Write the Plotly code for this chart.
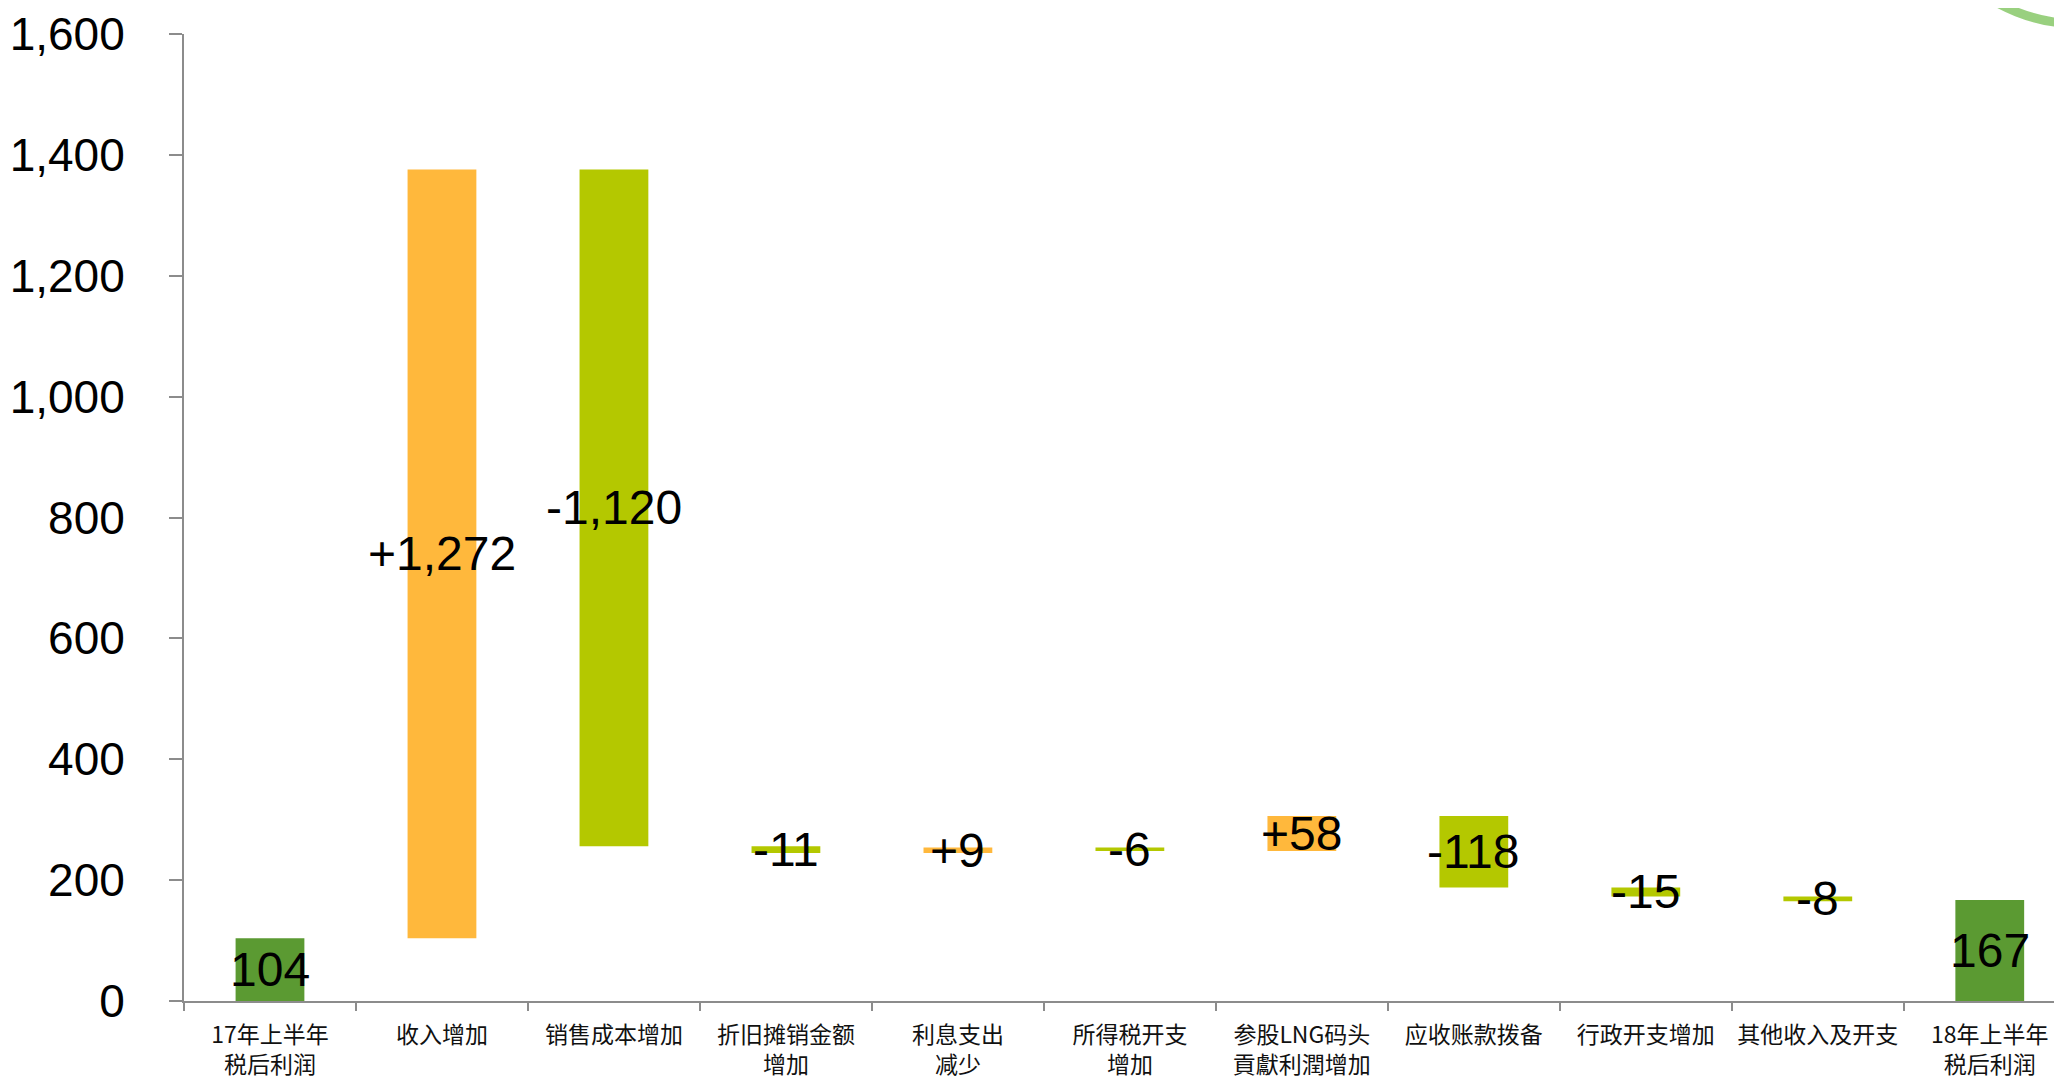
import numpy as np
import plotly.graph_objects as go

categories = ["17年上半年<br>税后利润", "收入增加", "销售成本增加", "折旧摊销金额<br>增加",
              "利息支出<br>减少", "所得税开支<br>增加", "参股LNG码头<br>貢獻利潤增加",
              "应收账款拨备", "行政开支增加", "其他收入及开支", "18年上半年<br>税后利润"]
start_value = 104
deltas = [1272, -1120, -11, 9, -6, 58, -118, -15, -8]
end_value = 167
labels = ["104", "+1,272", "-1,120", "-11", "+9", "-6", "+58", "-118", "-15", "-8", "167"]
y_ticks = [0, 200, 400, 600, 800, 1000, 1200, 1400, 1600]

C_TOTAL = "#5B9A32"
C_UP = "#FFB83C"
C_DOWN = "#B4C800"

# build bar heights and bases from the data
cum = start_value + np.cumsum([0] + deltas)
heights = [start_value] + deltas + [end_value]
bases = [0] + list(cum[:-1]) + [0]
colors = [C_TOTAL] + [C_UP if d > 0 else C_DOWN for d in deltas] + [C_TOTAL]
mids = [b + h / 2 for b, h in zip(bases, heights)]

fig = go.Figure()
fig.add_trace(go.Bar(x=categories, y=heights, base=bases, marker_color=colors,
                     marker_line_width=0, width=0.4, hoverinfo="skip"))

for cat, m, t in zip(categories, mids, labels):
    fig.add_annotation(x=cat, y=m, text=t, showarrow=False,
                       font=dict(family="Arial, Liberation Sans", size=48, color="#000000"),
                       xanchor="center", yanchor="middle")

# page body has an 8px margin, so figure is sized to fit the window
W, H = 2054, 1072
L, R, T, B = 176, 0, 24, 79
pw, ph = W - L - R, H - T - B
OFF = 8
def px(x): return (x - OFF - L) / pw
def py(y): return (H - B - (y - OFF)) / ph
fig.add_shape(type="circle", xref="paper", yref="paper",
              x0=px(2080 - 172), x1=px(2080 + 172), y0=py(22), y1=py(-322),
              line=dict(color="rgba(135,200,105,0.85)", width=9), fillcolor="rgba(0,0,0,0)",
              layer="below")

fig.update_layout(
    width=W, height=H, margin=dict(l=L, r=R, t=T, b=B),
    plot_bgcolor="white", paper_bgcolor="white", showlegend=False,
)
fig.update_xaxes(type="category", range=[-0.5, 10.42], showgrid=False, zeroline=False,
                 showline=True, linecolor="#8C8C8C", linewidth=2,
                 ticks="outside", tickson="boundaries", ticklen=8, tickcolor="#8C8C8C", tickwidth=2,
                 tickfont=dict(family="Noto Sans CJK SC", size=23, color="#111111"),
                 tickangle=0, ticklabelstandoff=12)
fig.update_yaxes(range=[0, 1600], tickvals=y_ticks, tickformat=",d", showgrid=False,
                 zeroline=False, showline=True, linecolor="#8C8C8C", linewidth=2,
                 ticks="outside", ticklen=13, tickcolor="#8C8C8C", tickwidth=2,
                 tickfont=dict(family="Arial, Liberation Sans", size=46, color="#000000"),
                 ticklabelstandoff=35, ticklabeloverflow="allow")

fig.write_html("out.html")
